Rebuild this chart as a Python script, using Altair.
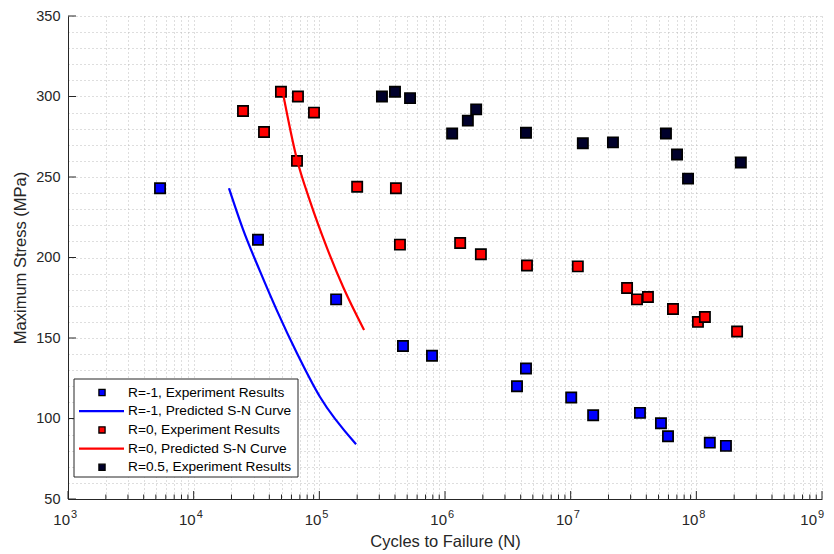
import altair as alt
import pandas as pd

# ---------------- data ----------------
rm1_cycles = [5.40e3, 3.25e4, 1.36e5, 4.63e5, 7.88e5, 4.41e6, 3.74e6, 1.01e7,
              1.51e7, 3.56e7, 5.23e7, 5.95e7, 1.28e8, 1.72e8]
rm1_stress = [243, 211, 174, 145, 139, 131, 120, 113, 102, 103.5, 97, 89, 85, 83]

r0_cycles = [2.47e4, 3.63e4, 4.95e4, 6.76e4, 9.07e4, 6.64e4, 2.0e5, 4.07e5, 4.38e5,
             1.32e6, 1.93e6, 4.49e6, 1.14e7, 2.81e7, 3.37e7, 4.12e7, 6.52e7,
             1.03e8, 1.17e8, 2.11e8]
r0_stress = [291, 278, 303, 300, 290, 260, 244, 243, 208, 209, 202, 195, 194.5,
             181, 174, 175.5, 168, 160, 163, 154]

r05_cycles = [3.15e5, 4.0e5, 5.27e5, 1.14e6, 1.52e6, 1.77e6, 4.41e6, 1.25e7,
              2.17e7, 5.73e7, 7.02e7, 8.59e7, 2.26e8]
r05_stress = [300, 303, 299, 277, 285, 292, 277.5, 271, 271.5, 277, 264, 249, 259]

rm1_curve_cycles = [1.91e4, 2.47e4, 3.37e4, 4.60e4, 6.64e4, 1.01e5, 1.96e5]
rm1_curve_stress = [243, 217.5, 191.5, 167, 140.5, 113.5, 84]

r0_curve_cycles = [5.11e4, 6.61e4, 8.43e4, 1.15e5, 1.55e5, 2.27e5]
r0_curve_stress = [303, 261.5, 235, 206, 181.5, 155]

x_major = [1e3, 1e4, 1e5, 1e6, 1e7, 1e8, 1e9]
x_exponents = ["3", "4", "5", "6", "7", "8", "9"]
x_minor = [m * d for d in [1e3, 1e4, 1e5, 1e6, 1e7, 1e8] for m in range(2, 10)]
y_major = [50, 100, 150, 200, 250, 300, 350]
y_grid = list(range(50, 351, 10))

legend_labels = ["R=-1, Experiment Results", "R=-1, Predicted S-N Curve",
                 "R=0, Experiment Results", "R=0, Predicted S-N Curve",
                 "R=0.5, Experiment Results"]
legend_kinds = ["square", "line", "square", "line", "square"]
legend_colors = ["#0000ff", "#0000ff", "#ff0000", "#ff0000", "#00002b"]

# ---------------- chart ----------------
W, H = 754, 483
FONT = "Liberation Sans"
AX = "#262626"

xscale = alt.Scale(type="log", domain=[1e3, 1e9], nice=False)
yscale = alt.Scale(domain=[50, 350], nice=False, zero=False)

xaxis = alt.Axis(values=x_major + x_minor, grid=True, gridDash=[1, 3],
                 gridColor="#bdbdbd", gridWidth=1, labels=False, ticks=False,
                 domainColor=AX, domainWidth=1, title="Cycles to Failure (N)",
                 titleFontSize=16.5, titleFont=FONT, titleFontWeight="normal",
                 titleColor=AX, titlePadding=34)
yaxis = alt.Axis(values=y_grid, grid=True, gridDash=[1, 3], gridColor="#bdbdbd",
                 gridWidth=1, labelExpr="datum.value % 50 == 0 ? datum.label : ''",
                 labelFontSize=14.5, labelFont=FONT, labelColor=AX, labelPadding=8,
                 ticks=False, tickSize=0, domainColor=AX, domainWidth=1,
                 title="Maximum Stress (MPa)", titleFontSize=16.5, titleFont=FONT,
                 titleFontWeight="normal", titleColor=AX, titlePadding=7)

X = alt.X("N:Q", scale=xscale, axis=xaxis)
Y = alt.Y("S:Q", scale=yscale, axis=yaxis)

def pts(cyc, st, color):
    df = pd.DataFrame({"N": cyc, "S": st})
    return alt.Chart(df).mark_point(shape="square", filled=True, size=105,
                                    fill=color, stroke="#000000", strokeWidth=1.7,
                                    opacity=1).encode(x=X, y=Y)

def curve(cyc, st, color):
    df = pd.DataFrame({"N": cyc, "S": st})
    return alt.Chart(df).mark_line(color=color, strokeWidth=2.2,
                                   interpolate="monotone").encode(x=X, y=Y)

# ticks (inward)
xt_major = alt.Chart(pd.DataFrame({"N": x_major})).mark_rule(color=AX, strokeWidth=1).encode(
    x=X, y=alt.value(H), y2=alt.value(H - 8))
xt_minor = alt.Chart(pd.DataFrame({"N": x_minor})).mark_rule(color=AX, strokeWidth=1).encode(
    x=X, y=alt.value(H), y2=alt.value(H - 4.5))
yt_major = alt.Chart(pd.DataFrame({"S": y_major})).mark_rule(color=AX, strokeWidth=1).encode(
    y=Y, x=alt.value(0), x2=alt.value(8))

# x tick labels 10^k (the last one is nudged left so it stays inside the page)
xl_df = pd.DataFrame({"N": x_major, "exp": x_exponents, "base": ["10"] * len(x_major)})
xl_main = alt.Chart(xl_df).transform_filter("datum.N < 1e9")
xl_last = alt.Chart(xl_df).transform_filter("datum.N >= 1e9")
def base_txt(c, dx):
    return c.mark_text(align="right", baseline="alphabetic", dx=dx, fontSize=15,
                       font=FONT, color=AX).encode(x=X, y=alt.value(H + 26), text="base:N")
def exp_txt(c, dx):
    return c.mark_text(align="left", baseline="alphabetic", dx=dx, fontSize=11,
                       font=FONT, color=AX).encode(x=X, y=alt.value(H + 19), text="exp:N")

# legend
leg = pd.DataFrame({"label": legend_labels, "kind": legend_kinds, "color": legend_colors})
leg["row"] = range(len(leg))
leg_box = alt.Chart(pd.DataFrame({"a": [0]})).mark_rect(
    fill="white", stroke=AX, strokeWidth=1).encode(
    x=alt.value(6), x2=alt.value(230), y=alt.value(363), y2=alt.value(461))
leg_base = alt.Chart(leg).transform_calculate(py="363 + 13.5 + datum.row * 18.7")
leg_sym = leg_base.transform_filter("datum.kind == 'square'").mark_point(
    shape="square", filled=True, size=38, stroke="#000000", strokeWidth=1.3, opacity=1).encode(
    x=alt.value(34), y=alt.Y("py:Q", scale=None),
    fill=alt.Fill("color:N", scale=None))
leg_line = leg_base.transform_filter("datum.kind == 'line'").mark_rule(strokeWidth=2.2).encode(
    x=alt.value(11), x2=alt.value(56), y=alt.Y("py:Q", scale=None),
    color=alt.Color("color:N", scale=None))
leg_txt = leg_base.mark_text(align="left", baseline="middle", fontSize=13.7, font=FONT,
                             color="#000000").encode(
    x=alt.value(60), y=alt.Y("py:Q", scale=None), text="label:N")

chart = alt.layer(
    pts(rm1_cycles, rm1_stress, "#0000ff"),
    curve(rm1_curve_cycles, rm1_curve_stress, "#0000ff"),
    pts(r0_cycles, r0_stress, "#ff0000"),
    curve(r0_curve_cycles, r0_curve_stress, "#ff0000"),
    pts(r05_cycles, r05_stress, "#00002b"),
    xt_major, xt_minor, yt_major,
    base_txt(xl_main, 2), exp_txt(xl_main, 3),
    base_txt(xl_last, -5), exp_txt(xl_last, -4),
    leg_box, leg_line, leg_sym, leg_txt,
).properties(
    width=W, height=H,
    autosize=alt.AutoSizeParams(type="none"),
    padding={"left": 60, "top": 8, "right": 4, "bottom": 56},
    background="white",
).configure_view(stroke=None)

chart.save("out.html", embed_options={"renderer": "svg", "actions": False})
